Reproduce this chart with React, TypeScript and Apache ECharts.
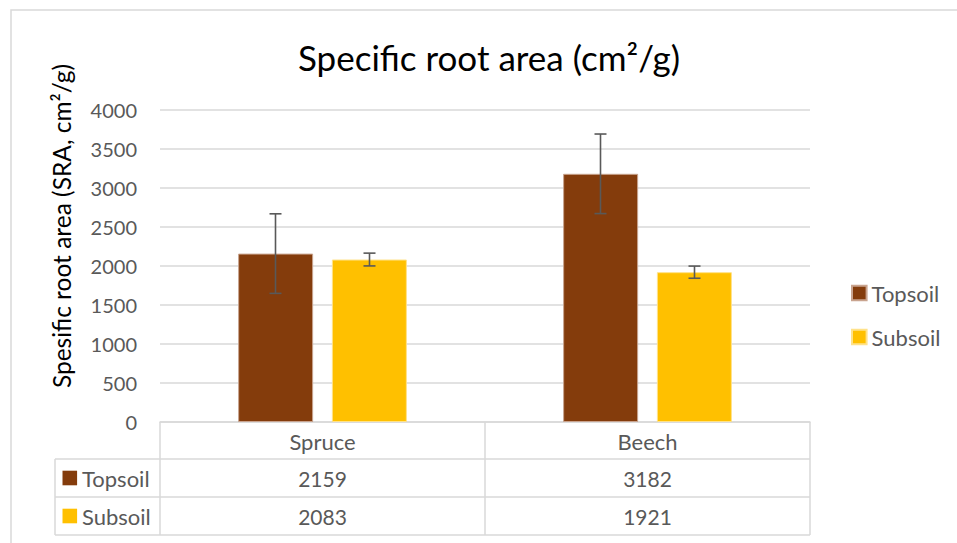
import React, { useEffect, useRef } from "react";
import * as echarts from "echarts";

const categories = ["Spruce", "Beech"];
const seriesNames = ["Topsoil", "Subsoil"];
const topsoil = [2159, 3182];
const subsoil = [2083, 1921];
const topsoilErr = [510, 510];
const subsoilErr = [82, 78];
const colors = ["#843C0C", "#FFC000"];
const titleText = "Specific root area (cm²/g)";
const yAxisTitle = "Spesific root area (SRA, cm²/g)";

const FONT = "Lato, 'Open Sans', sans-serif";
const GRID_LEFT = 160;
const GRID_RIGHT_X = 810;
const GRID_TOP = 110;
const GRID_BOTTOM_Y = 422;
const BAR_W = 75;
const BAR_OFFSET = 47;
const LINE = "#D9D9D9";

function errSeries(name: string, vals: number[], errs: number[], off: number) {
  return {
    type: "custom",
    name: name + "err",
    silent: true,
    z: 10,
    data: vals.map((v, i) => [i, v, errs[i]]),
    renderItem: (params: any, api: any) => {
      const x = api.value(0);
      const v = api.value(1);
      const e = api.value(2);
      const top = api.coord([x, v + e]);
      const bot = api.coord([x, v - e]);
      const cx = top[0] + off;
      const style = { stroke: "#595959", lineWidth: 1.6 };
      return {
        type: "group",
        children: [
          { type: "line", shape: { x1: cx, y1: top[1], x2: cx, y2: bot[1] }, style },
          { type: "line", shape: { x1: cx - 6, y1: top[1], x2: cx + 6, y2: top[1] }, style },
          { type: "line", shape: { x1: cx - 6, y1: bot[1], x2: cx + 6, y2: bot[1] }, style },
        ],
      };
    },
  };
}

export default function App() {
  const ref = useRef<HTMLDivElement>(null);
  useEffect(() => {
    const chart = echarts.init(ref.current!, null, { renderer: "svg" });
    const colW = (GRID_RIGHT_X - GRID_LEFT) / categories.length;
    const rowYs = [459, 497, 535];
    const tableLeft = 55;
    const rows = [topsoil, subsoil];
    const graphic: any[] = [
      {
        type: "rect",
        shape: { x: 11, y: 10, width: 980, height: 560 },
        style: { fill: "none", stroke: LINE, lineWidth: 1.5 },
        silent: true,
      },
      {
        type: "text",
        x: 61,
        y: 226,
        rotation: Math.PI / 2,
        style: {
          text: yAxisTitle,
          fontFamily: FONT,
          fontSize: 24.5,
          fill: "#000",
          textAlign: "center",
          verticalAlign: "middle",
        },
      },
    ];
    rowYs.forEach((y) => {
      graphic.push({
        type: "line",
        shape: { x1: tableLeft, y1: y, x2: GRID_RIGHT_X, y2: y },
        style: { stroke: LINE, lineWidth: 1.5 },
      });
    });
    graphic.push({
      type: "line",
      shape: { x1: tableLeft, y1: rowYs[0], x2: tableLeft, y2: rowYs[2] },
      style: { stroke: LINE, lineWidth: 1.5 },
    });
    rows.forEach((vals, r) => {
      const cy = (rowYs[r] + rowYs[r + 1]) / 2;
      graphic.push({
        type: "rect",
        shape: { x: 62.5, y: cy - 7.3, width: 14.6, height: 14.6 },
        style: { fill: colors[r] },
      });
      graphic.push({
        type: "text",
        x: 82,
        y: cy,
        style: {
          text: seriesNames[r],
          fontFamily: FONT,
          fontSize: 22,
          fill: "#595959",
          verticalAlign: "middle",
          textAlign: "left",
        },
      });
      vals.forEach((v, c) => {
        graphic.push({
          type: "text",
          x: GRID_LEFT + colW * (c + 0.5),
          y: cy,
          style: {
            text: String(v),
            fontFamily: FONT,
            fontSize: 21,
            fill: "#595959",
            verticalAlign: "middle",
            textAlign: "center",
          },
        });
      });
    });

    chart.setOption({
      animation: false,
      backgroundColor: "#fff",
      color: colors,
      title: {
        text: titleText,
        left: 484,
        textAlign: "center",
        top: 34,
        textStyle: { fontFamily: FONT, fontSize: 35, fontWeight: "normal", color: "#000" },
      },
      legend: {
        orient: "vertical",
        left: 846,
        top: 277,
        itemWidth: 14.6,
        itemHeight: 14.6,
        itemGap: 22,
        icon: "rect",
        data: seriesNames,
        textStyle: { fontFamily: FONT, fontSize: 22, color: "#595959" },
      },
      grid: {
        left: GRID_LEFT,
        right: 957 - GRID_RIGHT_X,
        top: GRID_TOP,
        bottom: 543 - GRID_BOTTOM_Y,
      },
      xAxis: {
        type: "category",
        data: categories,
        axisLine: { lineStyle: { color: LINE, width: 1.5 } },
        axisTick: { show: true, length: 113, lineStyle: { color: LINE, width: 1.5 } },
        axisLabel: { fontFamily: FONT, fontSize: 22, color: "#595959", margin: 8 },
      },
      yAxis: {
        type: "value",
        min: 0,
        max: 4000,
        interval: 500,
        axisLine: { show: false },
        axisTick: { show: false },
        axisLabel: {
          fontFamily: FONT,
          fontSize: 20,
          color: "#595959",
          margin: 23,
          formatter: (v: number) => String(v),
        },
        splitLine: { lineStyle: { color: LINE, width: 1.5 } },
      },
      series: [
        {
          type: "bar",
          name: seriesNames[0],
          data: topsoil,
          barWidth: BAR_W,
          barGap: "25%",
          itemStyle: { color: colors[0], borderColor: "#C9A48F", borderWidth: 1 },
        },
        {
          type: "bar",
          name: seriesNames[1],
          data: subsoil,
          barWidth: BAR_W,
          barGap: "25%",
          itemStyle: { color: colors[1], borderColor: "#FFE28A", borderWidth: 1 },
        },
        errSeries("Topsoil", topsoil, topsoilErr, -BAR_OFFSET),
        errSeries("Subsoil", subsoil, subsoilErr, BAR_OFFSET),
      ],
      graphic,
    });
    return () => chart.dispose();
  }, []);
  return (
    <div
      ref={ref}
      style={{ position: "absolute", left: 0, top: 0, width: 957, height: 543 }}
    />
  );
}
